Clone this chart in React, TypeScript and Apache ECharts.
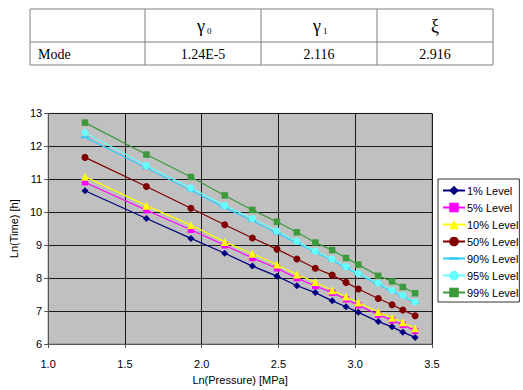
import React, { useEffect, useRef } from "react";
import * as echarts from "echarts";

// Ln(pressure) sample points [MPa]
const lnPressure = [1.24, 1.64, 1.93, 2.15, 2.33, 2.49, 2.62, 2.74, 2.85, 2.94, 3.02, 3.15, 3.24, 3.31, 3.39];

// Ln(time) [h] for each prediction level
const level1 = [10.65, 9.81, 9.205, 8.755, 8.365, 8.06, 7.77, 7.56, 7.31, 7.13, 6.96, 6.68, 6.52, 6.36, 6.2];
const level5 = [10.91, 10.06, 9.47, 9.0, 8.61, 8.3, 8.0, 7.76, 7.56, 7.36, 7.18, 6.89, 6.72, 6.58, 6.4];
const level10 = [11.08, 10.2, 9.61, 9.1, 8.74, 8.415, 8.11, 7.88, 7.63, 7.44, 7.26, 6.97, 6.8, 6.66, 6.48];
const level50 = [11.665, 10.78, 10.12, 9.62, 9.22, 8.88, 8.58, 8.3, 8.09, 7.87, 7.67, 7.38, 7.19, 7.03, 6.86];
const level90 = [12.28, 11.34, 10.66, 10.14, 9.74, 9.36, 9.07, 8.785, 8.54, 8.31, 8.12, 7.81, 7.595, 7.44, 7.24];
const level95 = [12.42, 11.42, 10.74, 10.2, 9.81, 9.44, 9.12, 8.82, 8.58, 8.35, 8.15, 7.85, 7.63, 7.48, 7.28];
const level99 = [12.72, 11.75, 11.07, 10.51, 10.07, 9.71, 9.39, 9.08, 8.85, 8.61, 8.41, 8.07, 7.9, 7.73, 7.54];

const seriesNames = ["1% Level", "5% Level", "10% Level", "50% Level", "90% Level", "95% Level", "99% Level"];
const seriesValues = [level1, level5, level10, level50, level90, level95, level99];

// Parameter table
const tableHeaders = ["γ", "γ", "ξ"];
const tableSubs = ["0", "1", ""];
const tableRowLabel = "Mode";
const tableValues = ["1.24E-5", "2.116", "2.916"];

const colors = ["#000080", "#FF00FF", "#FFFF00", "#800000", "#33CCFF", "#66FFFF", "#3C9A3C"];
// short horizontal dash centred in a square box, so it stays thin in the legend too
const dashMarker = "path://M0,0M8,8M0,3H8V5H0Z";
const symbols: any[] = ["diamond", "rect", "triangle", "circle", dashMarker, "circle", "rect"];
const symbolSizes: any[] = [7, 6.5, 8, 7, 8, 7, 6.5];

const SANS = "'Liberation Sans', Arial, sans-serif";
const SERIF = "'Liberation Serif', 'Times New Roman', serif";

export default function App() {
  const ref = useRef<HTMLDivElement>(null);

  useEffect(() => {
    if (!ref.current) return;
    const chart = echarts.init(ref.current, undefined, { renderer: "svg" });

    const tLeft = 30, tRight = 493, tTop = 9, tMid = 42, tBottom = 65;
    const colX = [145, 261, 377, 493];
    const lineStyle = { stroke: "#808080", lineWidth: 1 };
    const tableGraphics: any[] = [
      { type: "rect", shape: { x: tLeft, y: tTop, width: tRight - tLeft, height: tBottom - tTop }, style: { fill: "#fff", ...lineStyle } },
      { type: "line", shape: { x1: tLeft, y1: tMid, x2: tRight, y2: tMid }, style: lineStyle },
      ...colX.slice(0, 3).map((x) => ({ type: "line", shape: { x1: x, y1: tTop, x2: x, y2: tBottom }, style: lineStyle })),
      { type: "text", x: 38, y: 54, style: { text: tableRowLabel, font: `14px ${SERIF}`, fill: "#000", textVerticalAlign: "middle" } },
    ];
    tableValues.forEach((v, i) => {
      const cx = (colX[i] + colX[i + 1]) / 2;
      tableGraphics.push({
        type: "text", x: cx, y: 54,
        style: { text: v, font: `14px ${SERIF}`, fill: "#000", textAlign: "center", textVerticalAlign: "middle" },
      });
      const hasSub = tableSubs[i] !== "";
      tableGraphics.push({
        type: "text", x: hasSub ? cx - 2 : cx, y: 26,
        style: { text: tableHeaders[i], font: `18px ${SERIF}`, fill: "#000", textAlign: "center", textVerticalAlign: "middle" },
      });
      if (hasSub) {
        tableGraphics.push({
          type: "text", x: cx + 4, y: 31,
          style: { text: tableSubs[i], font: `9px ${SERIF}`, fill: "#000", textAlign: "left", textVerticalAlign: "middle" },
        });
      }
    });

    chart.setOption({
      animation: false,
      backgroundColor: "#fff",
      textStyle: { fontFamily: SANS },
      graphic: tableGraphics,
      grid: {
        left: 32, right: 91, top: 113.4, bottom: 37.6,
        show: true, backgroundColor: "#C0C0C0", borderColor: "#808080", borderWidth: 1,
      },
      legend: {
        orient: "vertical",
        left: 438, top: 179,
        padding: [6, 1, 4, 4],
        itemWidth: 22, itemHeight: 12, itemGap: 6,
        backgroundColor: "#fff", borderColor: "#333", borderWidth: 1,
        textStyle: { fontSize: 11, fontFamily: SANS, color: "#000", padding: [0, 0, 0, -3] },
        data: seriesNames,
      },
      xAxis: {
        type: "value", min: 1, max: 3.5, interval: 0.5,
        name: "Ln(Pressure) [MPa]", nameLocation: "middle", nameGap: 30,
        nameTextStyle: { fontSize: 11, color: "#000", fontFamily: SANS },
        axisLine: { show: true, onZero: false, lineStyle: { color: "#555", width: 1 } },
        axisTick: { show: true, length: 4, lineStyle: { color: "#555" } },
        axisLabel: { fontSize: 11, color: "#000", margin: 14, formatter: (v: number) => v.toFixed(1) },
        splitLine: { show: true, lineStyle: { color: "#1a1a1a", width: 1 } },
      },
      yAxis: {
        type: "value", min: 6, max: 13, interval: 1,
        name: "Ln(Time) [h]", nameLocation: "middle", nameGap: 17,
        nameTextStyle: { fontSize: 11, color: "#000", fontFamily: SANS },
        axisLine: { show: true, onZero: false, lineStyle: { color: "#555", width: 1 } },
        axisTick: { show: true, length: 4, lineStyle: { color: "#555" } },
        axisLabel: { fontSize: 11, color: "#000", margin: 6 },
        splitLine: { show: true, lineStyle: { color: "#1a1a1a", width: 1 } },
      },
      series: seriesNames.map((name, i) => ({
        name,
        type: "line",
        data: lnPressure.map((x, j) => [x, seriesValues[i][j]]),
        symbol: symbols[i],
        symbolSize: symbolSizes[i],
        showAllSymbol: true,
        lineStyle: { color: colors[i], width: 1.2 },
        itemStyle: { color: colors[i], borderWidth: 0 },
        emphasis: { disabled: true },
      })),
    });

    return () => chart.dispose();
  }, []);

  return <div ref={ref} style={{ position: "fixed", left: 0, top: 0, width: 523, height: 390 }} />;
}
